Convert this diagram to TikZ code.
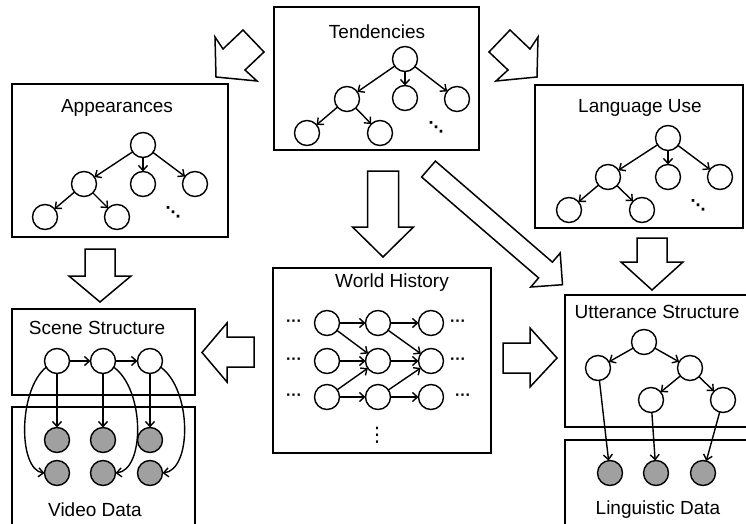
\documentclass[tikz,border=0pt]{standalone}
\usepackage{fontspec}
\setmainfont{Liberation Sans}
\newfontfamily\djv{DejaVu Sans}
\usetikzlibrary{arrows.meta}
\definecolor{obsgray}{RGB}{160,160,160}
\begin{document}
\begin{tikzpicture}[x=1pt,y=-1pt,
  every node/.style={inner sep=0pt,outer sep=0pt},
  st/.style={circle,draw,line width=1.4pt,minimum size=25pt,fill=white},
  obs/.style={st,fill=obsgray},
  lbl/.style={font=\fontsize{19}{23}\selectfont},
  ddot/.style={font=\djv\bfseries\fontsize{15}{17}\selectfont},
  vdot/.style={font=\djv\fontsize{20}{22}\selectfont},
  hdot/.style={font=\fontsize{16}{18}\selectfont\bfseries},
  panel/.style={draw,line width=1.5pt,anchor=north west},
  edge/.style={line width=1.4pt,-{Straight Barb[length=5pt,width=9pt,line width=1.4pt]}},
  barr/.style={draw,line width=1.5pt,fill=white,line join=miter}]
\useasboundingbox (0,0) rectangle (746,524);
\clip (0,0) rectangle (746,524);

% panels
\node[panel,minimum width=205pt,minimum height=143pt] (tend) at (274,7) {};
\node[panel,minimum width=216pt,minimum height=153pt] (app) at (12,84) {};
\node[panel,minimum width=208pt,minimum height=143pt] (lang) at (535,85) {};
\node[panel,minimum width=183pt,minimum height=86pt] (scene) at (12,309) {};
\node[panel,minimum width=183pt,minimum height=133pt] (video) at (12,407) {};
\node[panel,minimum width=218pt,minimum height=185pt] (world) at (273,268) {};
\node[panel,minimum width=195pt,minimum height=132pt] (utt) at (565,295) {};
\node[panel,minimum width=195pt,minimum height=100pt] (ling) at (565,440) {};

% titles
\node[lbl] (tTend) at (377,32) {Tendencies};
\node[lbl] (tApp) at (117,108) {Appearances};
\node[lbl] (tLang) at (640,108) {Language Use};
\node[lbl] (tScene) at (97,328) {Scene Structure};
\node[lbl] (tVideo) at (95,510) {Video Data};
\node[lbl] (tWorld) at (392,283) {World History};
\node[lbl] (tUtt) at (657,312) {Utterance Structure};
\node[lbl] (tLing) at (658,510) {Linguistic Data};

% block arrows
\draw[barr] (367.5,171) -- (398.5,171) -- (398.5,227) -- (413.5,227) -- (383,257) -- (352.5,227) -- (367.5,227) -- cycle;
\draw[barr] (85,249) -- (115,249) -- (115,276) -- (131,276) -- (100,302) -- (69,276) -- (85,276) -- cycle;
\draw[barr] (637,238) -- (667,238) -- (667,262) -- (683,262) -- (652,290) -- (621,262) -- (637,262) -- cycle;
\draw[barr] (254,337) -- (254,367) -- (227,367) -- (227,382) -- (202,352.5) -- (227,323) -- (227,337) -- cycle;
\draw[barr] (503,343) -- (503,373) -- (530,373) -- (530,387) -- (557,358) -- (530,328) -- (530,343) -- cycle;
\draw[barr] (243,30) -- (264,52) -- (245,70) -- (257,81) -- (216,77) -- (215,37) -- (223,49) -- cycle;
\draw[barr] (510,30) -- (489,52) -- (508,70) -- (496,81) -- (537,77) -- (538,37) -- (530,49) -- cycle;
\draw[barr] (435.4,161.1) -- (552.4,262.1) -- (560.2,253) -- (562.5,284.7) -- (530.8,287) -- (538.6,277.9) -- (421.6,177) -- cycle;

% Tendencies tree
\node[st] (t0) at (405,59) {};
\node[st] (t1) at (347,99) {};
\node[st] (t2) at (405,98) {};
\node[st] (t3) at (457,99) {};
\node[st] (t4) at (307,133) {};
\node[st] (t5) at (380,133) {};
\node[ddot] (td) at (436,127) {⋱};
\draw[edge] (t0) -- (t1); \draw[edge] (t0) -- (t2); \draw[edge] (t0) -- (t3);
\draw[edge] (t1) -- (t4); \draw[edge] (t1) -- (t5);

% Appearances tree
\node[st] (a0) at (143,145) {};
\node[st] (a1) at (84,184) {};
\node[st] (a2) at (143,184) {};
\node[st] (a3) at (195,184) {};
\node[st] (a4) at (45,217) {};
\node[st] (a5) at (117,217) {};
\node[ddot] (ad) at (173,212) {⋱};
\draw[edge] (a0) -- (a1); \draw[edge] (a0) -- (a2); \draw[edge] (a0) -- (a3);
\draw[edge] (a1) -- (a4); \draw[edge] (a1) -- (a5);

% Language Use tree
\node[st] (l0) at (668,138) {};
\node[st] (l1) at (608,177) {};
\node[st] (l2) at (668,177) {};
\node[st] (l3) at (720,177) {};
\node[st] (l4) at (569,210) {};
\node[st] (l5) at (642,210) {};
\node[ddot] (ld) at (698,205) {⋱};
\draw[edge] (l0) -- (l1); \draw[edge] (l0) -- (l2); \draw[edge] (l0) -- (l3);
\draw[edge] (l1) -- (l4); \draw[edge] (l1) -- (l5);

% Scene structure / video data
\node[st] (s1) at (57,361) {};
\node[st] (s2) at (103,361) {};
\node[st] (s3) at (150,361) {};
\node[obs] (v11) at (57,440) {};
\node[obs] (v12) at (103,440) {};
\node[obs] (v13) at (150,440) {};
\node[obs] (v21) at (57,473) {};
\node[obs] (v22) at (103,473) {};
\node[obs] (v23) at (150,473) {};
\draw[edge] (s1) -- (s2); \draw[edge] (s2) -- (s3);
\draw[edge] (s1) -- (v11); \draw[edge] (s2) -- (v12); \draw[edge] (s3) -- (v13);
\draw[edge] (s1.210) .. controls (18,390) and (18,470) .. (v21.west);
\draw[edge] (s2.330) .. controls (145,390) and (145,470) .. (v22.east);
\draw[edge] (s3.330) .. controls (192,390) and (192,470) .. (v23.east);

% World history
\node[st] (w11) at (327,323) {};
\node[st] (w12) at (378,323) {};
\node[st] (w13) at (431,323) {};
\node[st] (w21) at (327,361) {};
\node[st] (w22) at (378,361) {};
\node[st] (w23) at (431,361) {};
\node[st] (w31) at (327,397) {};
\node[st] (w32) at (378,397) {};
\node[st] (w33) at (431,397) {};
\node[hdot] (wl1) at (294,323) {···};
\node[hdot] (wl2) at (294,361) {···};
\node[hdot] (wl3) at (294,397) {···};
\node[hdot] (wr1) at (458,323) {···};
\node[hdot] (wr2) at (458,361) {···};
\node[hdot] (wr3) at (463,397) {···};
\node[vdot] (wv) at (377,435) {⋮};
\draw[edge] (w11) -- (w12); \draw[edge] (w12) -- (w13);
\draw[edge] (w21) -- (w22); \draw[edge] (w22) -- (w23);
\draw[edge] (w31) -- (w32); \draw[edge] (w32) -- (w33);
\draw[edge] (w11) -- (w22); \draw[edge] (w12) -- (w23);
\draw[edge] (w31) -- (w22); \draw[edge] (w32) -- (w23);

% Utterance structure / linguistic data
\node[st] (u0) at (644,342) {};
\node[st] (u1) at (598,368) {};
\node[st] (u2) at (690,368) {};
\node[st] (u3) at (651,400) {};
\node[st] (u4) at (723,400) {};
\node[obs] (g1) at (610,473) {};
\node[obs] (g2) at (656,473) {};
\node[obs] (g3) at (703,473) {};
\draw[edge] (u0) -- (u1); \draw[edge] (u0) -- (u2);
\draw[edge] (u2) -- (u3); \draw[edge] (u2) -- (u4);
\draw[edge] (u1) -- (g1); \draw[edge] (u3) -- (g2); \draw[edge] (u4) -- (g3);
\end{tikzpicture}
\end{document}
